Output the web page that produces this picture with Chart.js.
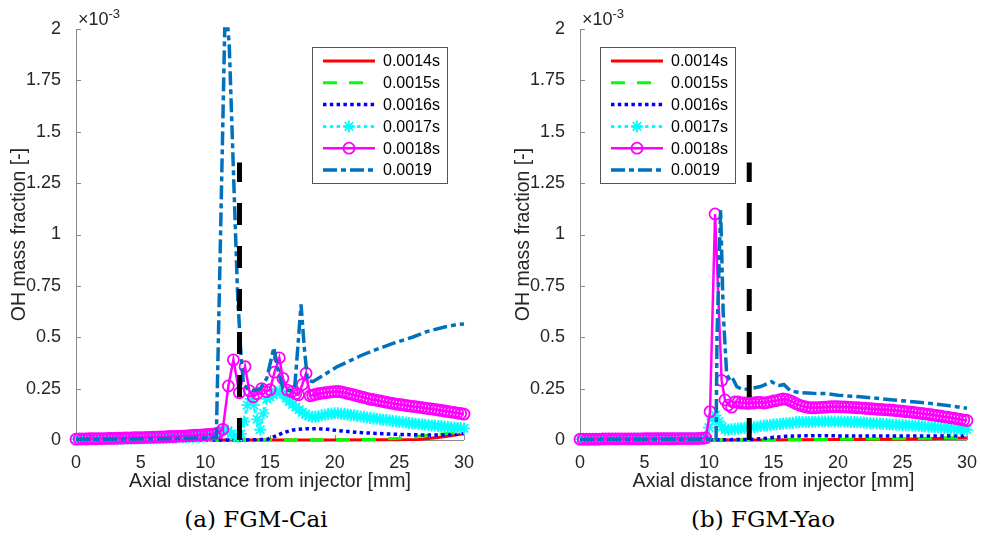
<!DOCTYPE html>
<html>
<head>
<meta charset="utf-8">
<script src="https://cdn.jsdelivr.net/npm/chart.js@4.4.1/dist/chart.umd.min.js"></script>
<style>
  body { margin: 0; background: #fff; }
  #wrap { position: relative; width: 981px; height: 545px; overflow: hidden; }
  canvas { position: absolute; top: 0; }
  #cai { left: 0; }
  #yao { left: 504px; }
  .cap { position: absolute; top: 505px; line-height: 28px; font-family: "DejaVu Serif", serif; font-size: 23px; color: #000; transform: translateX(-50%); white-space: nowrap; }
</style>
</head>
<body>
<div id="wrap">
  <canvas id="cai" width="504" height="500"></canvas>
  <canvas id="yao" width="477" height="500"></canvas>
  <div class="cap" style="left:256px">(a) FGM-Cai</div>
  <div class="cap" style="left:763px">(b) FGM-Yao</div>
</div>
<script>
// OH mass fraction (in units of 1e-3) along the axis, six instants per model
const SERIES_LABELS = ['0.0014s', '0.0015s', '0.0016s', '0.0017s', '0.0018s', '0.0019'];
const X_TICKS = [0, 5, 10, 15, 20, 25, 30];
const Y_TICKS = [0, 0.25, 0.5, 0.75, 1, 1.25, 1.5, 1.75, 2];
const Y_TICK_LABELS = ['0', '0.25', '0.5', '0.75', '1', '1.25', '1.5', '1.75', '2'];

// sampling positions [mm] used by the marker series
const X_GRID = [0, 0.25, 0.5, 0.75, 1, 1.25, 1.5, 1.75, 2, 2.25, 2.5, 2.75,
  3, 3.25, 3.5, 3.75, 4, 4.25, 4.5, 4.75, 5, 5.25, 5.5, 5.75,
  6, 6.25, 6.5, 6.75, 7, 7.25, 7.5, 7.75, 8, 8.25, 8.5, 8.75,
  9, 9.25, 9.5, 9.75, 10, 10.25, 10.5, 10.75, 11, 11.25, 11.5, 11.75,
  12, 12.25, 12.5, 12.75, 13, 13.25, 13.5, 13.75, 14, 14.25, 14.5, 14.75,
  15, 15.25, 15.5, 15.75, 16, 16.25, 16.5, 16.75, 17, 17.25, 17.5, 17.75,
  18, 18.25, 18.5, 18.75, 19, 19.25, 19.5, 19.75, 20, 20.25, 20.5, 20.75,
  21, 21.25, 21.5, 21.75, 22, 22.25, 22.5, 22.75, 23, 23.25, 23.5, 23.75,
  24, 24.25, 24.5, 24.75, 25, 25.25, 25.5, 25.75, 26, 26.25, 26.5, 26.75,
  27, 27.25, 27.5, 27.75, 28, 28.25, 28.5, 28.75, 29, 29.25, 29.5, 29.75, 30];

// ---- FGM-Cai ----
const caiRedX = [0, 12, 20, 24, 26.5, 28, 29, 30];
const caiRedY = [0, 0, 0, 0.001, 0.002, 0.012, 0.02, 0.032];
const caiGreenX = [0, 12, 20, 23, 25, 27, 28.5, 30];
const caiGreenY = [0, 0, 0.001, 0.003, 0.008, 0.022, 0.03, 0.04];
const caiBlueX = [0, 12.6, 13.5, 14.75, 15.5, 16, 16.8, 17.5, 18.5, 19.5, 20.2, 22, 24.5, 27, 28.5, 29.5, 30];
const caiBlueY = [0, 0, 0.001, 0.003, 0.02, 0.035, 0.049, 0.054, 0.055, 0.052, 0.046, 0.036, 0.028, 0.024, 0.024, 0.028, 0.032];
const caiCyanY = [
  0.004, 0.004, 0.004, 0.004, 0.005, 0.005, 0.005, 0.005, 0.005, 0.005, 0.006, 0.006,
  0.006, 0.006, 0.006, 0.007, 0.007, 0.007, 0.007, 0.008, 0.008, 0.008, 0.008, 0.009,
  0.009, 0.009, 0.010, 0.010, 0.010, 0.011, 0.011, 0.011, 0.012, 0.012, 0.013, 0.013,
  0.014, 0.014, 0.015, 0.016, 0.017, 0.019, 0.022, 0.028, 0.035, 0.045, 0.05, 0.045,
  0.03, 0.02, 0.015, 0.03, 0.09, 0.17, 0.2, 0.17, 0.1, 0.05, 0.13, 0.2,
  0.21, 0.22, 0.232, 0.24, 0.225, 0.205, 0.188, 0.173, 0.16, 0.148, 0.135, 0.125,
  0.118, 0.113, 0.113, 0.116, 0.12, 0.123, 0.126, 0.128, 0.13, 0.13, 0.128, 0.126,
  0.124, 0.122, 0.12, 0.117, 0.114, 0.112, 0.11, 0.107, 0.105, 0.103, 0.101, 0.099,
  0.097, 0.095, 0.093, 0.091, 0.089, 0.087, 0.085, 0.083, 0.081, 0.08, 0.078, 0.076,
  0.074, 0.073, 0.071, 0.07, 0.068, 0.067, 0.065, 0.064, 0.062, 0.061, 0.059, 0.058, 0.057];
const caiMagX = X_GRID.slice(0, 45)
  .concat([11.35, 11.78, 12.17, 12.63, 13.07, 13.4, 13.7, 14.0, 14.36, 14.7, 15.0,
    15.35, 15.72, 16.0, 16.34, 16.7, 17.0, 17.2, 17.5, 17.79, 18.1, 18.3])
  .concat(X_GRID.slice(74));
const caiMagY = [
  0.004, 0.005, 0.005, 0.005, 0.006, 0.006, 0.006, 0.007, 0.007, 0.007, 0.008, 0.008,
  0.008, 0.009, 0.009, 0.01, 0.01, 0.01, 0.011, 0.011, 0.012, 0.012, 0.013, 0.013,
  0.014, 0.014, 0.015, 0.015, 0.016, 0.017, 0.017, 0.018, 0.019, 0.019, 0.02, 0.021,
  0.022, 0.023, 0.024, 0.025, 0.026, 0.027, 0.028, 0.03, 0.035,
  0.052, 0.263, 0.39, 0.23, 0.357, 0.24, 0.21, 0.225, 0.25, 0.235, 0.245,
  0.33, 0.40, 0.30, 0.243, 0.235, 0.225, 0.22, 0.27, 0.325, 0.215, 0.218,
  0.222, 0.225, 0.228, 0.23, 0.232, 0.234, 0.235, 0.236, 0.234, 0.231,
  0.227, 0.223, 0.219, 0.215, 0.211, 0.207, 0.203, 0.199, 0.196, 0.193, 0.19, 0.187,
  0.184, 0.181, 0.178, 0.175, 0.173, 0.171, 0.168, 0.166, 0.164, 0.162, 0.16, 0.158,
  0.155, 0.153, 0.151, 0.149, 0.146, 0.144, 0.141, 0.139, 0.136, 0.134, 0.131, 0.129, 0.126];
const caiDkX = [0, 2, 4, 6, 8, 10, 10.85, 11.2, 11.5, 11.75, 11.85, 12.3, 12.5, 12.75, 12.95,
  13.25, 13.75, 14.25, 14.75, 15.3, 15.6, 16.0, 16.5, 16.9, 17.15, 17.4, 17.65, 17.9, 18.3,
  19, 20.2, 21, 22, 23, 24.5, 26, 27.1, 28.5, 29.5, 30];
const caiDkY = [0.003, 0.004, 0.005, 0.006, 0.008, 0.01, 0.015, 1.07, 2.0, 2.0, 1.92, 1.07, 0.7, 0.42, 0.27,
  0.25, 0.24, 0.25, 0.3, 0.45, 0.35, 0.25, 0.24, 0.25, 0.45, 0.66, 0.45, 0.29, 0.284,
  0.31, 0.357, 0.38, 0.41, 0.435, 0.47, 0.5, 0.527, 0.55, 0.562, 0.565];
const caiMarkX = [12.64, 12.64];
const caiMarkY = [0, 1.35];

// ---- FGM-Yao ----
const yaoRedX = [0, 14, 20, 25, 30];
const yaoRedY = [0, 0, 0.002, 0.004, 0.01];
const yaoGreenX = [0, 14, 20, 25, 30];
const yaoGreenY = [0, 0, 0.003, 0.006, 0.012];
const yaoBlueX = [0, 13, 14, 15, 16, 17, 18, 19, 20, 22, 24, 26, 28, 30];
const yaoBlueY = [0, 0.002, 0.006, 0.012, 0.018, 0.02, 0.021, 0.021, 0.02, 0.019, 0.019, 0.019, 0.02, 0.022];
const yaoCyanY = [
  0.004, 0.004, 0.004, 0.004, 0.004, 0.004, 0.005, 0.005, 0.005, 0.005, 0.005, 0.005,
  0.005, 0.005, 0.005, 0.005, 0.006, 0.006, 0.006, 0.006, 0.006, 0.006, 0.006, 0.006,
  0.007, 0.007, 0.007, 0.007, 0.007, 0.007, 0.007, 0.008, 0.008, 0.008, 0.008, 0.008,
  0.008, 0.009, 0.01, 0.02, 0.06, 0.1, 0.12, 0.09, 0.065, 0.05, 0.05, 0.052,
  0.055, 0.055, 0.057, 0.058, 0.06, 0.062, 0.063, 0.065, 0.068, 0.07, 0.071, 0.073,
  0.075, 0.077, 0.078, 0.08, 0.082, 0.083, 0.084, 0.086, 0.087, 0.087, 0.088, 0.088,
  0.089, 0.089, 0.09, 0.09, 0.09, 0.09, 0.09, 0.09, 0.09, 0.09, 0.089, 0.089,
  0.088, 0.087, 0.086, 0.086, 0.085, 0.084, 0.083, 0.082, 0.081, 0.08, 0.079, 0.078,
  0.077, 0.076, 0.075, 0.074, 0.073, 0.072, 0.071, 0.07, 0.069, 0.068, 0.067, 0.066,
  0.065, 0.064, 0.062, 0.061, 0.06, 0.059, 0.057, 0.056, 0.055, 0.054, 0.052, 0.051, 0.05];
const yaoMagX = X_GRID.slice(0, 40)
  .concat([10.08, 10.47, 10.98, 11.24, 11.5, 11.76, 12.0])
  .concat(X_GRID.slice(49));
const yaoMagY = [
  0.004, 0.004, 0.004, 0.004, 0.004, 0.004, 0.004, 0.005, 0.005, 0.005, 0.005, 0.005,
  0.005, 0.005, 0.005, 0.005, 0.005, 0.005, 0.005, 0.005, 0.006, 0.006, 0.006, 0.006,
  0.006, 0.006, 0.006, 0.006, 0.006, 0.006, 0.007, 0.007, 0.007, 0.007, 0.007, 0.007,
  0.007, 0.008, 0.008, 0.01,
  0.138, 1.10, 0.29, 0.195, 0.17, 0.16, 0.185,
  0.185, 0.18, 0.18, 0.178, 0.18, 0.18, 0.183, 0.183, 0.18, 0.182, 0.186,
  0.19, 0.192, 0.196, 0.2, 0.198, 0.192, 0.185, 0.177, 0.17, 0.165, 0.161, 0.158,
  0.157, 0.157, 0.158, 0.159, 0.16, 0.161, 0.162, 0.162, 0.162, 0.161, 0.161, 0.16,
  0.159, 0.158, 0.157, 0.156, 0.155, 0.154, 0.152, 0.151, 0.15, 0.149, 0.148, 0.147,
  0.146, 0.145, 0.143, 0.142, 0.14, 0.138, 0.137, 0.135, 0.133, 0.131, 0.129, 0.127,
  0.125, 0.123, 0.12, 0.118, 0.116, 0.113, 0.111, 0.108, 0.106, 0.103, 0.1, 0.097, 0.095];
const yaoDkX = [0, 5, 10, 10.55, 10.62, 10.9, 11.1, 11.37, 11.55, 11.76, 12.15, 12.6, 13.2, 14,
  14.86, 15.2, 15.5, 15.8, 16.3, 17.05, 18, 19.1, 20, 21.7, 23, 24.3, 25.5, 26.9, 28.5, 30];
const yaoDkY = [0.002, 0.003, 0.004, 0.005, 0.5, 1.12, 0.62, 0.32, 0.3, 0.31, 0.26, 0.245, 0.25, 0.26,
  0.284, 0.27, 0.265, 0.27, 0.24, 0.23, 0.227, 0.226, 0.218, 0.21, 0.203, 0.195, 0.188, 0.18, 0.168, 0.155];
const yaoMarkX = [13.12, 13.12];
const yaoMarkY = [0, 1.35];

const TEXT_COLOR = '#262626';
const AXIS_COLOR = '#8a8a8a';
const FONT = '"Liberation Sans", Arial, sans-serif';

function pts(xs, ys) {
  return xs.map((x, i) => ({ x: x, y: ys[i] }));
}

// inward ticks, axis lines, x10^-3 multiplier and the boxed legend
const axesDecor = {
  id: 'axesDecor',
  beforeDatasetsDraw(chart) {
    const { ctx, chartArea: a, scales: { x, y } } = chart;
    ctx.save();
    ctx.strokeStyle = AXIS_COLOR;
    ctx.lineWidth = 1;
    ctx.beginPath();
    ctx.moveTo(a.left + 0.5, a.top);
    ctx.lineTo(a.left + 0.5, a.bottom + 0.5);
    ctx.lineTo(a.right, a.bottom + 0.5);
    X_TICKS.forEach(v => {
      const px = Math.round(x.getPixelForValue(v)) + 0.5;
      ctx.moveTo(px, a.bottom);
      ctx.lineTo(px, a.bottom - 5);
    });
    Y_TICKS.forEach(v => {
      const py = Math.round(y.getPixelForValue(v)) + 0.5;
      ctx.moveTo(a.left, py);
      ctx.lineTo(a.left + 5, py);
    });
    ctx.stroke();
    ctx.fillStyle = TEXT_COLOR;
    ctx.font = '18px ' + FONT;
    ctx.textBaseline = 'alphabetic';
    ctx.textAlign = 'left';
    ctx.fillText('×10', a.left + 2, 25);
    const w = ctx.measureText('×10').width;
    ctx.font = '13px ' + FONT;
    ctx.fillText('-3', a.left + 2 + w, 18);
    ctx.restore();
  },
  afterDraw(chart, args, opts) {
    const ctx = chart.ctx;
    const bx = opts.x, by = opts.y;
    ctx.save();
    ctx.fillStyle = '#fff';
    ctx.fillRect(bx, by, 135, 136);
    ctx.strokeStyle = '#555';
    ctx.lineWidth = 1;
    ctx.strokeRect(bx + 0.5, by + 0.5, 135, 136);
    chart.data.datasets.forEach((ds, i) => {
      if (!ds.label) return;
      const ry = by + 14 + i * 21.8;
      ctx.save();
      ctx.strokeStyle = ds.borderColor;
      ctx.lineWidth = ds.borderWidth;
      ctx.lineCap = 'butt';
      ctx.setLineDash(ds.borderDash || []);
      ctx.beginPath();
      ctx.moveTo(bx + 11, ry);
      ctx.lineTo(bx + 63, ry);
      ctx.stroke();
      ctx.setLineDash([]);
      if (ds.pointRadius > 0) {
        ctx.strokeStyle = ds.pointBorderColor;
        ctx.fillStyle = 'rgba(0,0,0,0)';
        ctx.lineWidth = ds.pointBorderWidth;
        Chart.helpers.drawPoint(ctx, {
          pointStyle: ds.pointStyle, radius: ds.pointRadius,
          borderWidth: ds.pointBorderWidth, rotation: 0
        }, bx + 37, ry);
      }
      ctx.restore();
      ctx.fillStyle = '#000';
      ctx.font = '16px ' + FONT;
      ctx.textBaseline = 'middle';
      ctx.textAlign = 'left';
      ctx.fillText(ds.label, bx + 71, ry + 1);
    });
    ctx.restore();
  }
};

function lineSet(label, data, color, width, dash, order, extra) {
  return Object.assign({
    label: label, data: data, borderColor: color, borderWidth: width,
    borderDash: dash, borderCapStyle: 'butt', pointRadius: 0, pointHoverRadius: 0,
    tension: 0, clip: false, order: order
  }, extra || {});
}

function makeChart(id, d, padRight, legendX) {
  const datasets = [
    lineSet(SERIES_LABELS[0], pts(d.redX, d.redY), '#ff0000', 3, [], 6),
    lineSet(SERIES_LABELS[1], pts(d.greenX, d.greenY), '#00ff00', 3, [14, 12], 5),
    lineSet(SERIES_LABELS[2], pts(d.blueX, d.blueY), '#0000ff', 3.5, [3.5, 3.3], 4),
    lineSet(SERIES_LABELS[3], pts(X_GRID, d.cyanY), '#00ffff', 3, [3.5, 3.3], 3, {
      pointRadius: 6, pointStyle: 'star', pointBorderColor: '#00ffff',
      pointBackgroundColor: '#00ffff', pointBorderWidth: 1.8
    }),
    lineSet(SERIES_LABELS[4], pts(d.magX, d.magY), '#ff00ff', 2.5, [], 2, {
      pointRadius: 5.5, pointStyle: 'circle', pointBorderColor: '#ff00ff',
      pointBackgroundColor: 'rgba(0,0,0,0)', pointBorderWidth: 1.8
    }),
    lineSet(SERIES_LABELS[5], pts(d.dkX, d.dkY), '#0072bd', 3.5, [14, 4, 5, 4], 1),
    lineSet('', pts(d.markX, d.markY), '#000000', 5, [22, 21], 0)
  ];
  new Chart(document.getElementById(id), {
    type: 'line',
    data: { datasets: datasets },
    plugins: [axesDecor],
    options: {
      responsive: false,
      animation: false,
      events: [],
      layout: { padding: { left: 0, right: padRight, top: 29, bottom: 0 } },
      plugins: {
        legend: { display: false },
        tooltip: { enabled: false },
        axesDecor: { x: legendX, y: 47 }
      },
      scales: {
        x: {
          type: 'linear', min: 0, max: 30,
          afterBuildTicks: s => { s.ticks = X_TICKS.map(v => ({ value: v })); },
          afterFit: s => { s.height = 60; },
          grid: { display: false }, border: { display: false },
          ticks: { color: TEXT_COLOR, font: { family: FONT, size: 18 }, padding: 4, maxRotation: 0 },
          title: {
            display: true, text: 'Axial distance from injector [mm]', color: TEXT_COLOR,
            font: { family: FONT, size: 19.5 }, padding: { top: 0, bottom: 7 }
          }
        },
        y: {
          type: 'linear', min: 0, max: 2,
          afterBuildTicks: s => { s.ticks = Y_TICKS.map(v => ({ value: v })); },
          afterFit: s => { s.width = 76; },
          grid: { display: false }, border: { display: false },
          ticks: {
            color: TEXT_COLOR, font: { family: FONT, size: 18 }, padding: 7,
            callback: v => Y_TICK_LABELS[Y_TICKS.indexOf(v)]
          },
          title: {
            display: true, text: 'OH mass fraction [-]', color: TEXT_COLOR,
            font: { family: FONT, size: 19.5 }, padding: { top: 8, bottom: 0 }
          }
        }
      }
    }
  });
}

makeChart('cai', {
  redX: caiRedX, redY: caiRedY, greenX: caiGreenX, greenY: caiGreenY,
  blueX: caiBlueX, blueY: caiBlueY, cyanY: caiCyanY, magX: caiMagX, magY: caiMagY,
  dkX: caiDkX, dkY: caiDkY, markX: caiMarkX, markY: caiMarkY
}, 40, 312);

makeChart('yao', {
  redX: yaoRedX, redY: yaoRedY, greenX: yaoGreenX, greenY: yaoGreenY,
  blueX: yaoBlueX, blueY: yaoBlueY, cyanY: yaoCyanY, magX: yaoMagX, magY: yaoMagY,
  dkX: yaoDkX, dkY: yaoDkY, markX: yaoMarkX, markY: yaoMarkY
}, 14, 96);
</script>
</body>
</html>
